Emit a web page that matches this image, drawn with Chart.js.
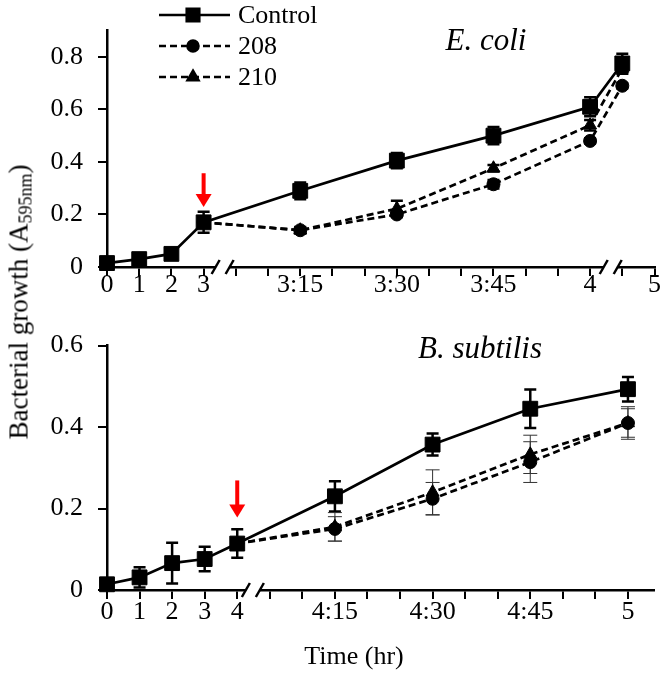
<!DOCTYPE html>
<html>
<head>
<meta charset="utf-8">
<script src="https://cdn.jsdelivr.net/npm/chart.js@4.4.0/dist/chart.umd.min.js"></script>
<style>
  html, body { margin: 0; padding: 0; background: #fff; }
  #wrap { position: relative; width: 666px; height: 673px; font-family: "Liberation Serif", "Times New Roman", serif; color: #000; }
  canvas { position: absolute; left: 0; }
  #ytitle { position: absolute; left: 20px; top: 302px; transform: translate(-50%, -50%) rotate(-90deg); font-size: 27px; white-space: nowrap; }
  #ytitle span { font-size: 18px; vertical-align: -4px; }
  .species { position: absolute; font-style: italic; font-size: 31px; transform: translate(-50%, -50%); white-space: nowrap; }
  #xtitle { position: absolute; left: 354px; top: 656px; transform: translate(-50%, -50%); font-size: 26px; white-space: nowrap; }
</style>
</head>
<body>
<div id="wrap">
  <canvas id="topChart" width="666" height="310" style="top:0"></canvas>
  <canvas id="botChart" width="666" height="358" style="top:315px"></canvas>
  <div id="ytitle">Bacterial growth (A<span>595nm</span>)</div>
  <div class="species" style="left:486px; top:40px">E. coli</div>
  <div class="species" style="left:480px; top:348px">B. subtilis</div>
  <div id="xtitle">Time (hr)</div>
</div>
<script>
// E. coli panel (x = position on the broken axis)
const topX = [0, 1, 2, 3, 6, 9, 12, 15, 16];
const topControl = [0.015, 0.03, 0.05, 0.17, 0.29, 0.405, 0.50, 0.61, 0.775];
const topControlErr = [0.01, 0.01, 0.01, 0.04, 0.032, 0.029, 0.033, 0.036, 0.037];
const top208 = [null, null, null, 0.17, 0.14, 0.20, 0.315, 0.48, 0.69];
const top208Err = [null, null, null, 0, 0.012, 0.01, 0.016, 0.01, 0.01];
const top210 = [null, null, null, 0.17, 0.14, 0.222, 0.376, 0.54, 0.756];
const top210Err = [null, null, null, 0, 0.01, 0.03, 0.012, 0.02, 0.02];
const topTicks = [0, 1, 2, 3, 4, 5, 6, 7, 8, 9, 10, 11, 12, 13, 14, 15, 16, 17];
const topTickLabels = ['0', '1', '2', '3', '', '', '3:15', '', '', '3:30', '', '', '3:45', '', '', '4', '', '5'];
const topYTicks = [0, 0.2, 0.4, 0.6, 0.8];
const topBreaks = [3.59, 15.64];
const topArrow = { x: 3, from: 0.357, to: 0.228 };

// B. subtilis panel
const botX = [0, 1, 2, 3, 4, 7, 10, 13, 16];
const botControl = [0.014, 0.031, 0.066, 0.076, 0.114, 0.23, 0.357, 0.445, 0.493];
const botControlErr = [0.006, 0.025, 0.05, 0.03, 0.035, 0.037, 0.027, 0.047, 0.03];
const bot208 = [null, null, null, null, 0.114, 0.15, 0.224, 0.314, 0.41];
const bot208Err = [null, null, null, null, 0, 0.03, 0.04, 0.05, 0.035];
const bot210 = [null, null, null, null, 0.114, 0.155, 0.24, 0.333, 0.41];
const bot210Err = [null, null, null, null, 0, 0.035, 0.055, 0.047, 0.04];
const botTicks = [0, 1, 2, 3, 4, 5, 6, 7, 8, 9, 10, 11, 12, 13, 14, 15, 16];
const botTickLabels = ['0', '1', '2', '3', '4', '', '', '4:15', '', '', '4:30', '', '', '4:45', '', '', '5'];
const botYTicks = [0, 0.2, 0.4, 0.6];
const botBreaks = [4.48];
const botArrow = { x: 4, from: 0.269, to: 0.178 };

const seriesNames = ['Control', '208', '210'];

const FONT = "'Liberation Serif', serif";

const overlay = {
  id: 'overlay',
  beforeDatasetsDraw(chart, args, opts) {
    const ctx = chart.ctx;
    const ys = chart.scales.y;
    ctx.save();
    chart.data.datasets.forEach((ds, i) => {
      const meta = chart.getDatasetMeta(i);
      const errs = opts.err[i];
      const thin = opts.thin[i];
      ctx.lineWidth = thin ? 1 : 2.5;
      ctx.strokeStyle = thin ? '#333' : '#000';
      const cap = thin ? 7 : 6;
      ds.data.forEach((p, j) => {
        const e = errs[j];
        if (p.y == null || !e) return;
        const x = meta.data[j].x;
        const y1 = ys.getPixelForValue(p.y + e);
        const y2 = ys.getPixelForValue(p.y - e);
        ctx.beginPath();
        ctx.moveTo(x, y1); ctx.lineTo(x, y2);
        ctx.moveTo(x - cap, y1); ctx.lineTo(x + cap, y1);
        ctx.moveTo(x - cap, y2); ctx.lineTo(x + cap, y2);
        ctx.stroke();
      });
    });
    ctx.restore();
  },
  afterDraw(chart, args, opts) {
    const ctx = chart.ctx;
    const xs = chart.scales.x, ys = chart.scales.y;
    const yb = chart.chartArea.bottom;
    ctx.save();
    // axis breaks
    opts.breaks.forEach(b => {
      const xc = xs.getPixelForValue(b);
      ctx.fillStyle = '#fff';
      ctx.fillRect(xc - 7, yb - 3, 14, 6);
      ctx.strokeStyle = '#000';
      ctx.lineWidth = 2.5;
      [-7, 7].forEach(d => {
        ctx.beginPath();
        ctx.moveTo(xc + d - 4, yb + 7);
        ctx.lineTo(xc + d + 4, yb - 7);
        ctx.stroke();
      });
    });
    // red arrow
    const a = opts.arrow;
    const ax = xs.getPixelForValue(a.x);
    const y0 = ys.getPixelForValue(a.from), y1 = ys.getPixelForValue(a.to);
    ctx.strokeStyle = '#ff0000';
    ctx.fillStyle = '#ff0000';
    ctx.lineWidth = 4;
    ctx.beginPath();
    ctx.moveTo(ax, y0); ctx.lineTo(ax, y1 - 10);
    ctx.stroke();
    ctx.beginPath();
    ctx.moveTo(ax - 8, y1 - 13); ctx.lineTo(ax + 8, y1 - 13); ctx.lineTo(ax, y1);
    ctx.closePath();
    ctx.fill();
    // legend
    if (opts.legend) {
      const rows = [15, 46, 77];
      chart.data.datasets.forEach((ds, i) => {
        const y = rows[i];
        ctx.strokeStyle = '#000';
        ctx.fillStyle = '#000';
        ctx.lineWidth = 2.5;
        ctx.setLineDash(ds.borderDash || []);
        ctx.beginPath();
        ctx.moveTo(159, y); ctx.lineTo(230, y);
        ctx.stroke();
        ctx.setLineDash([]);
        Chart.helpers.drawPoint(ctx, { pointStyle: ds.pointStyle, radius: ds.pointRadius * 0.85, borderWidth: 1 }, 193, y);
        ctx.fill();
        ctx.font = "26px 'Liberation Serif', serif";
        ctx.textBaseline = 'middle';
        ctx.textAlign = 'left';
        ctx.fillText(ds.label, 238, y + 1);
      });
    }
    ctx.restore();
  }
};

function makeSet(label, xs, vals, style, radius, dashed) {
  return {
    label: label,
    data: xs.map((x, i) => ({ x: x, y: vals[i] })),
    borderColor: '#000',
    backgroundColor: '#000',
    borderWidth: 2.7,
    borderDash: dashed ? [7, 4] : [],
    pointStyle: style,
    pointRadius: radius,
    pointBackgroundColor: '#000',
    pointBorderColor: '#000',
    pointBorderWidth: 1,
    tension: 0,
    clip: false
  };
}

function axisOpts(ticksArr, labels, min, max, xHeight, isX, pad) {
  const base = {
    type: 'linear',
    min: min,
    max: max,
    border: { display: true, color: '#000', width: 2.5 },
    grid: { display: true, drawOnChartArea: false, drawTicks: true, tickLength: 9, color: '#000', lineWidth: 2 },
    afterBuildTicks: s => { s.ticks = ticksArr.map(v => ({ value: v })); },
    ticks: {
      color: '#000',
      font: { family: FONT, size: 26 },
      autoSkip: false,
      maxRotation: 0,
      padding: pad
    }
  };
  if (isX) {
    base.ticks.callback = (v, i) => labels[i];
    base.afterFit = s => { s.height = xHeight; };
  } else {
    base.ticks.callback = v => (v === 0 ? '0' : v.toFixed(1));
    base.afterFit = s => { s.width = 107; };
  }
  return base;
}

function build() {
  Chart.defaults.font.family = FONT;

  new Chart(document.getElementById('topChart').getContext('2d'), {
    type: 'line',
    data: {
      datasets: [
        makeSet(seriesNames[0], topX, topControl, 'rect', 10.5, false),
        makeSet(seriesNames[1], topX, top208, 'circle', 6.5, true),
        makeSet(seriesNames[2], topX, top210, 'triangle', 7.5, true)
      ]
    },
    options: {
      responsive: false,
      animation: false,
      layout: { padding: { top: 4, right: 7, left: 0, bottom: 0 } },
      plugins: {
        legend: { display: false },
        tooltip: { enabled: false },
        overlay: {
          err: [topControlErr, top208Err, top210Err],
          thin: [false, false, false],
          breaks: topBreaks,
          arrow: topArrow,
          legend: true
        }
      },
      scales: {
        x: axisOpts(topTicks, topTickLabels, 0, 17, 43, true, -6),
        y: axisOpts(topYTicks, null, 0, 0.9, 0, false, 15)
      }
    },
    plugins: [overlay]
  });

  new Chart(document.getElementById('botChart').getContext('2d'), {
    type: 'line',
    data: {
      datasets: [
        makeSet(seriesNames[0], botX, botControl, 'rect', 10.5, false),
        makeSet(seriesNames[1], botX, bot208, 'circle', 6.5, true),
        makeSet(seriesNames[2], botX, bot210, 'triangle', 7.5, true)
      ]
    },
    options: {
      responsive: false,
      animation: false,
      layout: { padding: { top: 20, right: 12, left: 0, bottom: 0 } },
      plugins: {
        legend: { display: false },
        tooltip: { enabled: false },
        overlay: {
          err: [botControlErr, bot208Err, bot210Err],
          thin: [false, true, true],
          breaks: botBreaks,
          arrow: botArrow,
          legend: false
        }
      },
      scales: {
        x: axisOpts(botTicks, botTickLabels, 0, 16.8, 83, true, -2),
        y: axisOpts(botYTicks, null, 0, 0.6, 0, false, 15)
      }
    },
    plugins: [overlay]
  });
}

if (document.fonts && document.fonts.load) {
  document.fonts.load("26px 'Liberation Serif'").then(build, build);
} else {
  build();
}
</script>
</body>
</html>
